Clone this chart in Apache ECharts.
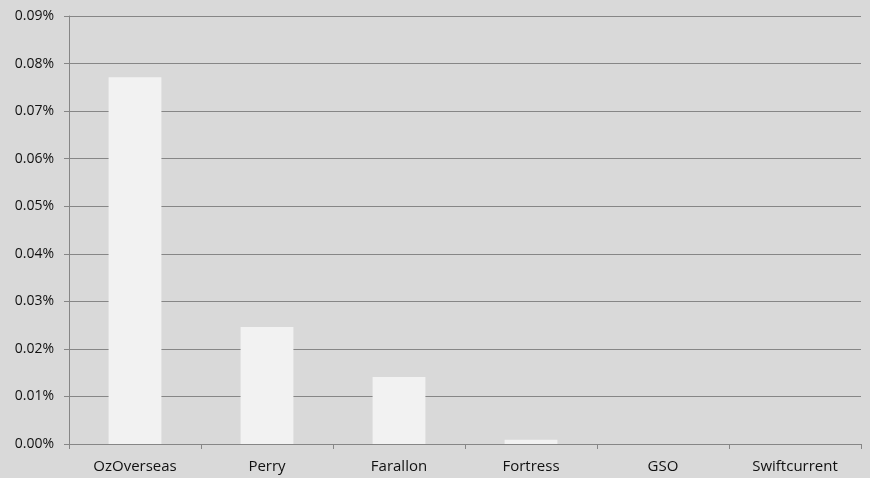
<!DOCTYPE html>
<html>
<head>
<meta charset="utf-8">
<script src="https://cdn.jsdelivr.net/npm/echarts@6/dist/echarts.min.js"></script>
<style>
html,body{margin:0;padding:0;background:#d9d9d9;}
#chart{width:870px;height:478px;}
</style>
</head>
<body>
<div id="chart"></div>
<script>
const categories = ['OzOverseas', 'Perry', 'Farallon', 'Fortress', 'GSO', 'Swiftcurrent'];
const values = [0.0771, 0.0246, 0.0141, 0.0009, 0, 0];
const yTicks = { min: 0, max: 0.09, interval: 0.01 };

const chart = echarts.init(document.getElementById('chart'));
chart.setOption({
  backgroundColor: '#d9d9d9',
  animation: false,
  grid: { left: 69, right: 9, top: 16, bottom: 34, containLabel: false },
  xAxis: {
    type: 'category',
    data: categories,
    axisLine: { lineStyle: { color: '#868686', width: 1 } },
    axisTick: { show: true, length: 5, lineStyle: { color: '#868686' } },
    axisLabel: { color: '#111', fontFamily: 'Open Sans', fontSize: 15, margin: 15 }
  },
  yAxis: {
    type: 'value',
    min: yTicks.min,
    max: yTicks.max,
    interval: yTicks.interval,
    axisLine: { show: true, lineStyle: { color: '#868686', width: 1 } },
    axisTick: { show: true, length: 5, lineStyle: { color: '#868686' } },
    splitLine: { show: true, lineStyle: { color: '#868686', width: 1 } },
    axisLabel: {
      color: '#111', fontFamily: 'Open Sans', fontSize: 14, margin: 15,
      formatter: v => v.toFixed(2) + '%'
    }
  },
  series: [{
    type: 'bar',
    data: values,
    barWidth: '40%',
    itemStyle: { color: '#f2f2f2' }
  }]
});
</script>
</body>
</html>
